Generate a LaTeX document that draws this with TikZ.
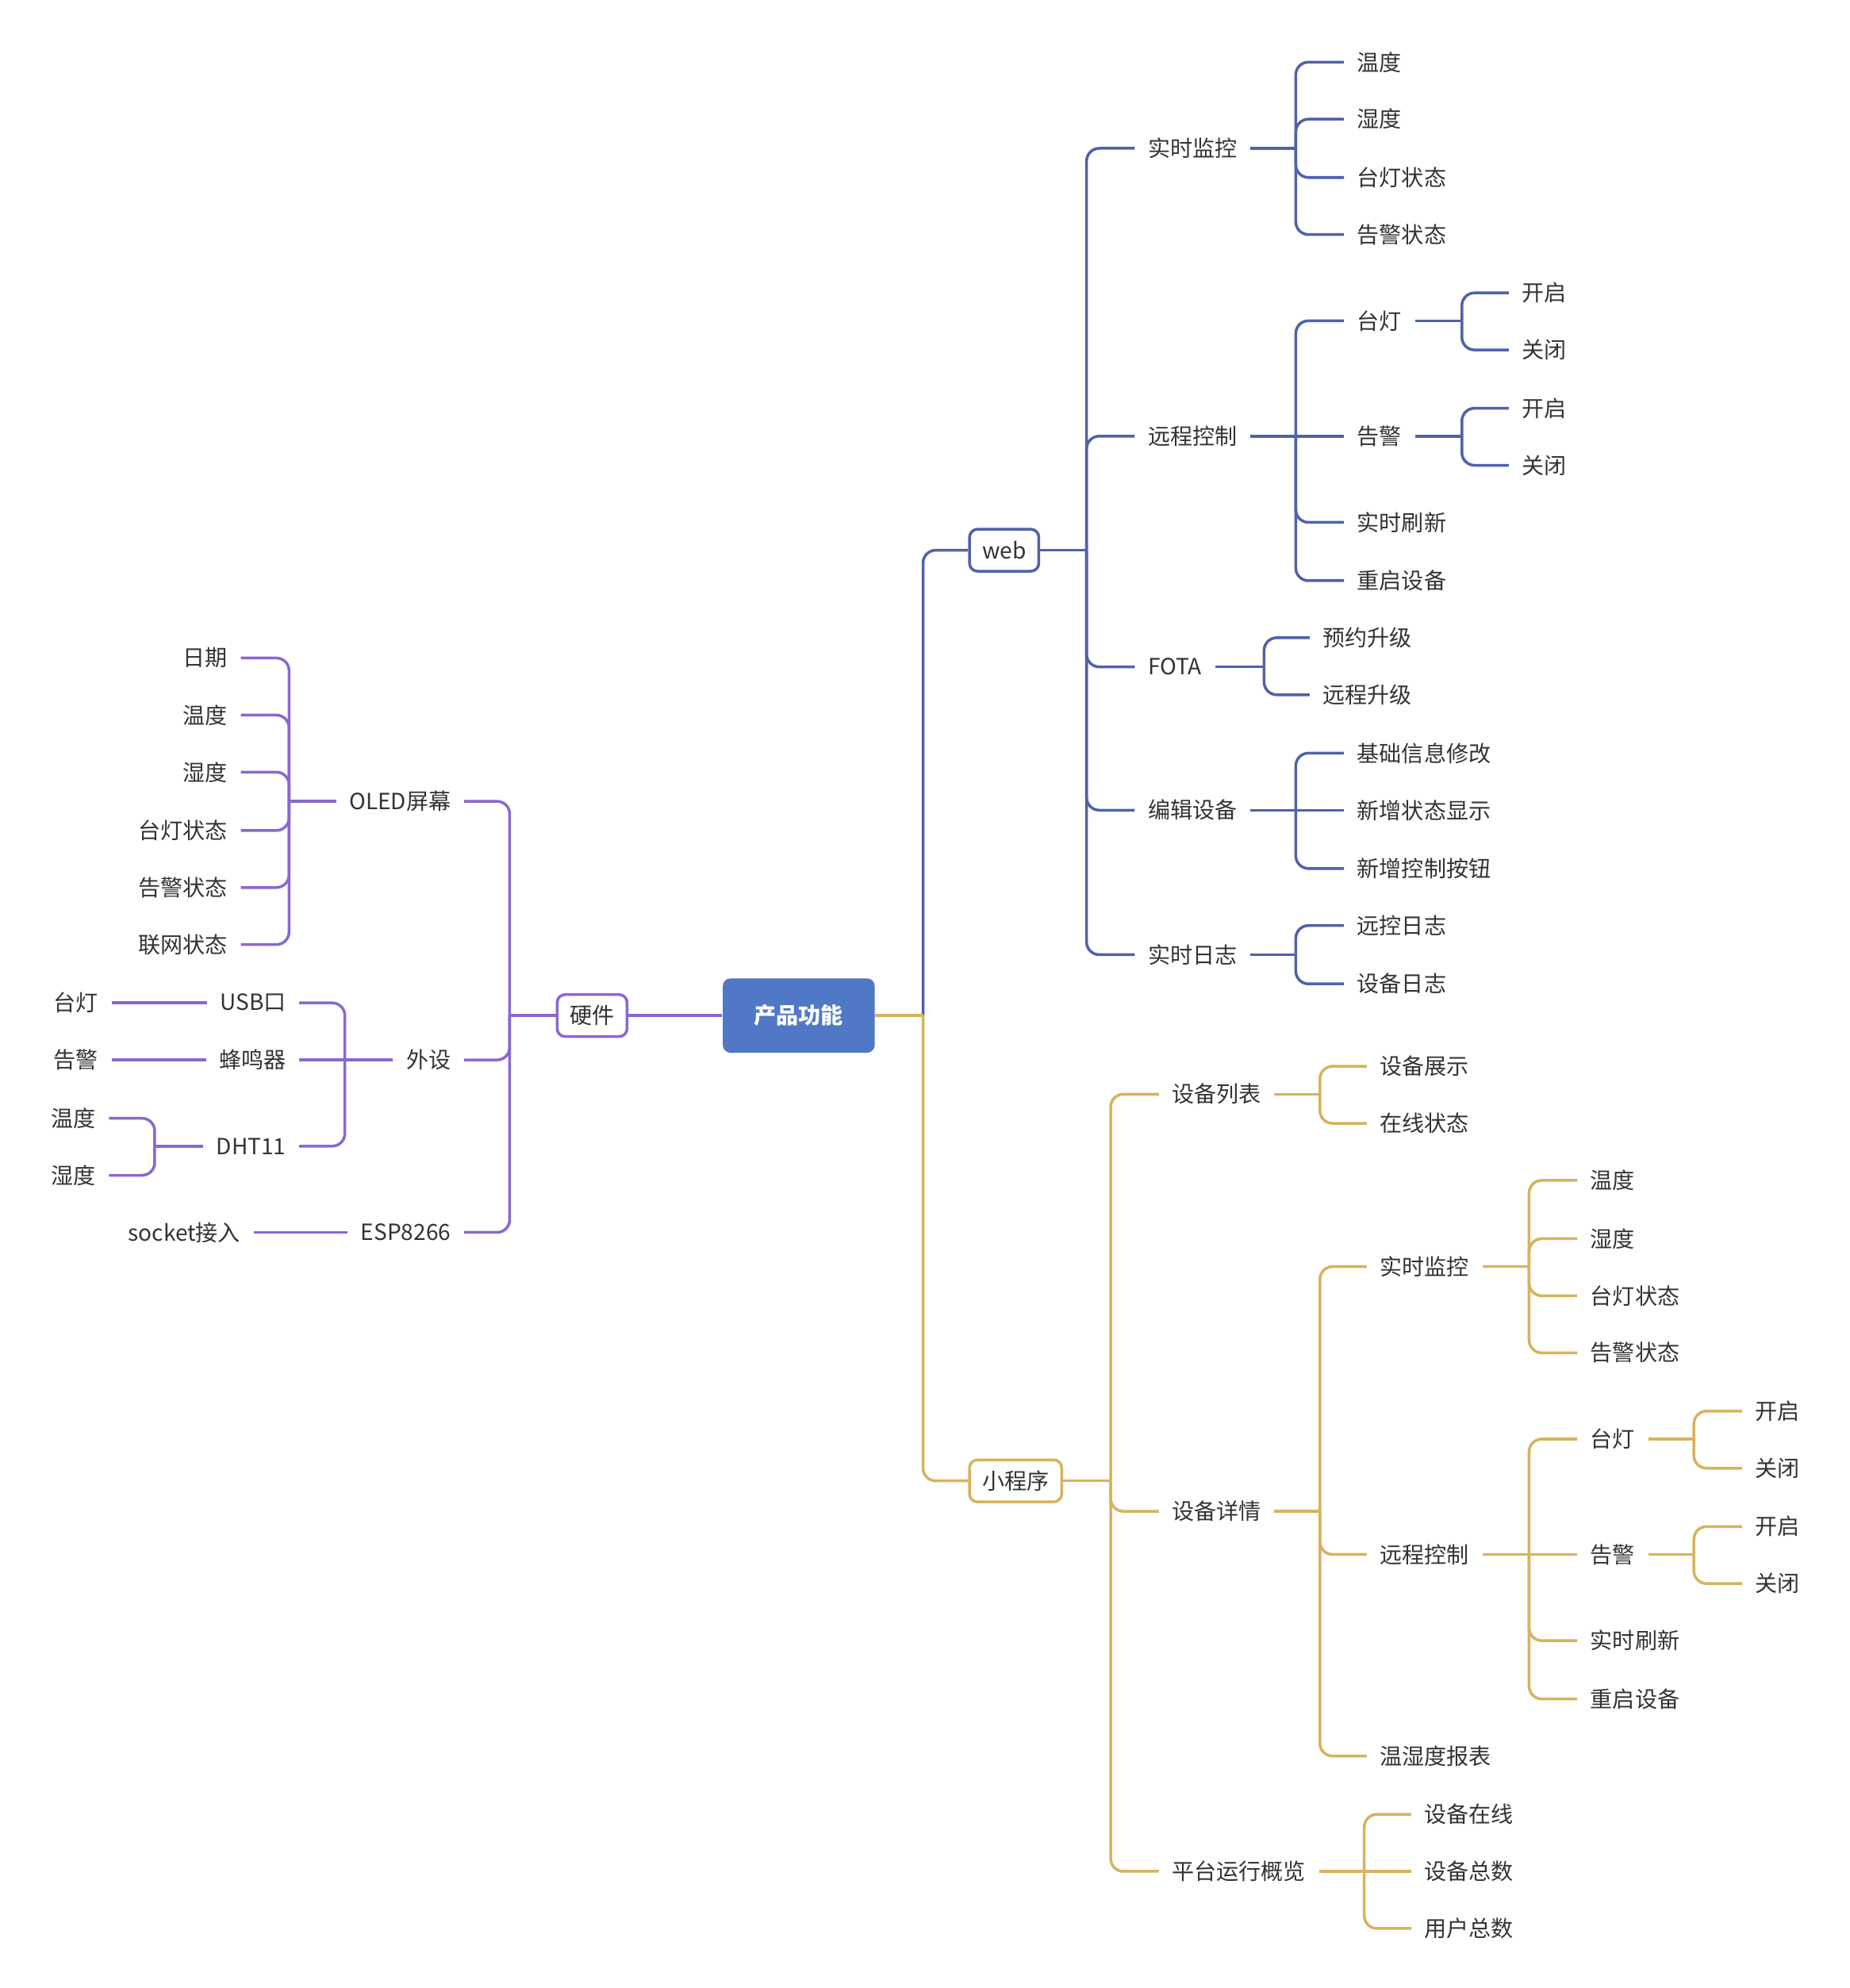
\documentclass[tikz,border=0pt]{standalone}
\usepackage{fontspec}
\setmainfont{Noto Sans CJK SC}
\definecolor{webblue}{RGB}{79,98,170}
\definecolor{hwpurple}{RGB}{137,104,208}
\definecolor{appgold}{RGB}{214,179,92}
\definecolor{rootfill}{RGB}{80,120,198}
\definecolor{txtgray}{RGB}{51,51,51}

\begin{document}
\begin{tikzpicture}[x=0.016cm, y=-0.016cm,
  every node/.style={font=\fontsize{8}{10}\selectfont, text=txtgray, inner xsep=0.16cm, inner ysep=2pt},
  rootbox/.style={fill=rootfill, text=white, font=\fontsize{8}{10}\selectfont\bfseries, rounded corners=0.1cm, minimum width=1.92cm, minimum height=0.94cm},
  subbox/.style={draw=#1, fill=white, line width=1pt, rounded corners=0.1cm, minimum height=0.53cm},
  ln/.style={draw=#1, line width=1pt, rounded corners=0.16cm}]
\useasboundingbox (0,0) rectangle (1459,1568);
% centre
\node[rootbox] (root) at (630,801) {产品功能};
\node[subbox=webblue] (web) at (792,434) {web};
\node[subbox=appgold] (app) at (801,1168) {小程序};
\node[subbox=hwpurple] (hw) at (467,801) {硬件};
% web
\node[anchor=west] (wmon) at (895,117) {实时监控};
\node[anchor=west] (wmon1) at (1060,49) {温度};
\node[anchor=west] (wmon2) at (1060,94) {湿度};
\node[anchor=west] (wmon3) at (1060,140) {台灯状态};
\node[anchor=west] (wmon4) at (1060,185) {告警状态};
\node[anchor=west] (wctl) at (895,344) {远程控制};
\node[anchor=west] (wlamp) at (1060,253) {台灯};
\node[anchor=west] (wlamp1) at (1190,231) {开启};
\node[anchor=west] (wlamp2) at (1190,276) {关闭};
\node[anchor=west] (walarm) at (1060,344) {告警};
\node[anchor=west] (walarm1) at (1190,322) {开启};
\node[anchor=west] (walarm2) at (1190,367) {关闭};
\node[anchor=west] (wrefresh) at (1060,412) {实时刷新};
\node[anchor=west] (wreboot) at (1060,458) {重启设备};
\node[anchor=west] (wfota) at (895,526) {FOTA};
\node[anchor=west] (wfota1) at (1033,503) {预约升级};
\node[anchor=west] (wfota2) at (1033,548) {远程升级};
\node[anchor=west] (wedit) at (895,639) {编辑设备};
\node[anchor=west] (wedit1) at (1060,594) {基础信息修改};
\node[anchor=west] (wedit2) at (1060,639) {新增状态显示};
\node[anchor=west] (wedit3) at (1060,685) {新增控制按钮};
\node[anchor=west] (wlog) at (895,753) {实时日志};
\node[anchor=west] (wlog1) at (1060,730) {远控日志};
\node[anchor=west] (wlog2) at (1060,776) {设备日志};
% mini program
\node[anchor=west] (alist) at (914,863) {设备列表};
\node[anchor=west] (alist1) at (1078,841) {设备展示};
\node[anchor=west] (alist2) at (1078,886) {在线状态};
\node[anchor=west] (adet) at (914,1192) {设备详情};
\node[anchor=west] (amon) at (1078,999) {实时监控};
\node[anchor=west] (amon1) at (1244,931) {温度};
\node[anchor=west] (amon2) at (1244,977) {湿度};
\node[anchor=west] (amon3) at (1244,1022) {台灯状态};
\node[anchor=west] (amon4) at (1244,1067) {告警状态};
\node[anchor=west] (actl) at (1078,1226) {远程控制};
\node[anchor=west] (alamp) at (1244,1135) {台灯};
\node[anchor=west] (alamp1) at (1374,1113) {开启};
\node[anchor=west] (alamp2) at (1374,1158) {关闭};
\node[anchor=west] (aalarm) at (1244,1226) {告警};
\node[anchor=west] (aalarm1) at (1374,1204) {开启};
\node[anchor=west] (aalarm2) at (1374,1249) {关闭};
\node[anchor=west] (arefresh) at (1244,1294) {实时刷新};
\node[anchor=west] (areboot) at (1244,1340) {重启设备};
\node[anchor=west] (areport) at (1078,1385) {温湿度报表};
\node[anchor=west] (aover) at (914,1476) {平台运行概览};
\node[anchor=west] (aover1) at (1113,1431) {设备在线};
\node[anchor=west] (aover2) at (1113,1476) {设备总数};
\node[anchor=west] (aover3) at (1113,1521) {用户总数};
% hardware
\node[anchor=east] (oled) at (366,632) {OLED屏幕};
\node[anchor=east] (oled1) at (190,519) {日期};
\node[anchor=east] (oled2) at (190,564) {温度};
\node[anchor=east] (oled3) at (190,609) {湿度};
\node[anchor=east] (oled4) at (190,655) {台灯状态};
\node[anchor=east] (oled5) at (190,700) {告警状态};
\node[anchor=east] (oled6) at (190,745) {联网状态};
\node[anchor=east] (per) at (366,836) {外设};
\node[anchor=east] (usb) at (236,791) {USB口};
\node[anchor=east] (usb1) at (88,791) {台灯};
\node[anchor=east] (buzz) at (236,836) {蜂鸣器};
\node[anchor=east] (buzz1) at (88,836) {告警};
\node[anchor=east] (dht) at (236,904) {DHT11};
\node[anchor=east] (dht1) at (86,882) {温度};
\node[anchor=east] (dht2) at (86,927) {湿度};
\node[anchor=east] (esp) at (366,972) {ESP8266};
\node[anchor=east] (esp1) at (200,972) {socket接入};
% junctions
\coordinate (rj) at (728,801);
\coordinate (webj) at (857,434);
\coordinate (wmonj) at (1022,117);
\coordinate (wctlj) at (1022,344);
\coordinate (wlampj) at (1153,253);
\coordinate (walarmj) at (1153,344);
\coordinate (wfotaj) at (997,526);
\coordinate (weditj) at (1022,639);
\coordinate (wlogj) at (1022,753);
\coordinate (appj) at (876,1168);
\coordinate (alistj) at (1041,863);
\coordinate (adetj) at (1041,1192);
\coordinate (amonj) at (1206,999);
\coordinate (actlj) at (1206,1226);
\coordinate (alampj) at (1336,1135);
\coordinate (aalarmj) at (1336,1226);
\coordinate (aoverj) at (1076,1476);
\coordinate (hwj) at (402,801);
\coordinate (oledj) at (228,632);
\coordinate (perj) at (272,836);
\coordinate (dhtj) at (122,904);
% web branch
\draw[ln=webblue] (rj) |- (web.west);
\draw[ln=webblue] (web.east) -- (webj);
\foreach \c in {wmon,wctl,wfota,wedit,wlog}
  \draw[ln=webblue] (webj) |- (\c.west);
\draw[ln=webblue] (wmon.east) -- (wmonj);
\foreach \c in {wmon1,wmon2,wmon3,wmon4}
  \draw[ln=webblue] (wmonj) |- (\c.west);
\draw[ln=webblue] (wctl.east) -- (wctlj) -- (walarm.west);
\foreach \c in {wlamp,wrefresh,wreboot}
  \draw[ln=webblue] (wctlj) |- (\c.west);
\draw[ln=webblue] (wlamp.east) -- (wlampj);
\foreach \c in {wlamp1,wlamp2}
  \draw[ln=webblue] (wlampj) |- (\c.west);
\draw[ln=webblue] (walarm.east) -- (walarmj);
\foreach \c in {walarm1,walarm2}
  \draw[ln=webblue] (walarmj) |- (\c.west);
\draw[ln=webblue] (wfota.east) -- (wfotaj);
\foreach \c in {wfota1,wfota2}
  \draw[ln=webblue] (wfotaj) |- (\c.west);
\draw[ln=webblue] (wedit.east) -- (weditj) -- (wedit2.west);
\foreach \c in {wedit1,wedit3}
  \draw[ln=webblue] (weditj) |- (\c.west);
\draw[ln=webblue] (wlog.east) -- (wlogj);
\foreach \c in {wlog1,wlog2}
  \draw[ln=webblue] (wlogj) |- (\c.west);
% mini program branch
\draw[ln=appgold] (root.east) -- (rj);
\draw[ln=appgold] (rj) |- (app.west);
\draw[ln=appgold] (app.east) -- (appj);
\foreach \c in {alist,adet,aover}
  \draw[ln=appgold] (appj) |- (\c.west);
\draw[ln=appgold] (alist.east) -- (alistj);
\foreach \c in {alist1,alist2}
  \draw[ln=appgold] (alistj) |- (\c.west);
\draw[ln=appgold] (adet.east) -- (adetj);
\foreach \c in {amon,actl,areport}
  \draw[ln=appgold] (adetj) |- (\c.west);
\draw[ln=appgold] (amon.east) -- (amonj);
\foreach \c in {amon1,amon2,amon3,amon4}
  \draw[ln=appgold] (amonj) |- (\c.west);
\draw[ln=appgold] (actl.east) -- (actlj) -- (aalarm.west);
\foreach \c in {alamp,arefresh,areboot}
  \draw[ln=appgold] (actlj) |- (\c.west);
\draw[ln=appgold] (alamp.east) -- (alampj);
\foreach \c in {alamp1,alamp2}
  \draw[ln=appgold] (alampj) |- (\c.west);
\draw[ln=appgold] (aalarm.east) -- (aalarmj);
\foreach \c in {aalarm1,aalarm2}
  \draw[ln=appgold] (aalarmj) |- (\c.west);
\draw[ln=appgold] (aover.east) -- (aoverj) -- (aover2.west);
\foreach \c in {aover1,aover3}
  \draw[ln=appgold] (aoverj) |- (\c.west);
% hardware branch
\draw[ln=hwpurple] (root.west) -- (hw.east);
\draw[ln=hwpurple] (hw.west) -- (hwj);
\foreach \c in {oled,per,esp}
  \draw[ln=hwpurple] (hwj) |- (\c.east);
\draw[ln=hwpurple] (oled.west) -- (oledj);
\foreach \c in {oled1,oled2,oled3,oled4,oled5,oled6}
  \draw[ln=hwpurple] (oledj) |- (\c.east);
\draw[ln=hwpurple] (per.west) -- (perj) -- (buzz.east);
\foreach \c in {usb,dht}
  \draw[ln=hwpurple] (perj) |- (\c.east);
\draw[ln=hwpurple] (usb.west) -- (usb1.east);
\draw[ln=hwpurple] (buzz.west) -- (buzz1.east);
\draw[ln=hwpurple] (dht.west) -- (dhtj);
\foreach \c in {dht1,dht2}
  \draw[ln=hwpurple] (dhtj) |- (\c.east);
\draw[ln=hwpurple] (esp.west) -- (esp1.east);
\end{tikzpicture}
\end{document}
